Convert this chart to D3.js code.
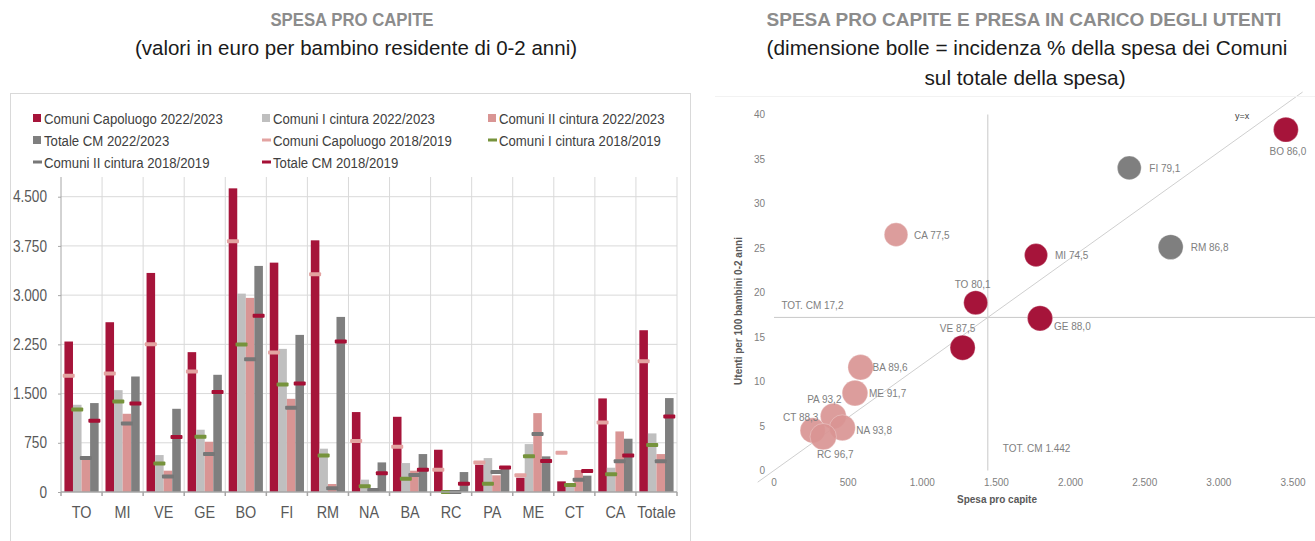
<!DOCTYPE html>
<html>
<head>
<meta charset="utf-8">
<script src="https://cdn.jsdelivr.net/npm/d3@7"></script>
<style>
  body { margin: 0; background: #fff; }
  svg { font-family: "Liberation Sans Narrow", "Arial Narrow", "Liberation Sans", Arial, sans-serif; }
  .grid line { stroke: #d9d9d9; }
</style>
</head>
<body>
<svg id="chart" width="1315" height="541"></svg>
<script>
'use strict'

// ---- left chart data (euro per bambino 0-2 anni)
var cities = ['TO','MI','VE','GE','BO','FI','RM','NA','BA','RC','PA','ME','CT','CA','Totale']
var capoluogo2223 = [2293,2587,3338,2131,4627,3495,3835,1218,1146,644,416,218,162,1426,2465]
var cintura1_2223 = [1329,1552,563,949,3023,2181,660,188,441,0,517,730,80,370,893]
var cintura2_2223 = [543,1192,325,766,2958,1420,122,40,325,0,254,1202,335,923,578]
var totale2223    = [1355,1760,1268,1786,3445,2394,2668,451,578,304,355,543,249,812,1431]
var capoluogo1819 = [1770,1806,2252,1836,3820,2126,3318,776,690,340,451,254,599,1060,1994]
var cintura1_1819 = [1258,1380,436,842,2247,1639,558,86,203,0,127,543,107,269,715]
var cintura2_1819 = [517,1045,238,578,2024,1283,56,30,259,0,304,883,188,467,467]
var totale1819    = [1086,1349,837,1522,2684,1654,2293,284,340,127,375,472,320,558,1152]
var yTicks = [0,750,1500,2250,3000,3750,4500]

// ---- right chart data
var bubbleCities = ['BO','FI','RM','MI','GE','TO','CA','VE','BA','ME','PA','CT','NA','RC']
var spesa        = [3452,2396,2675,1767,1794,1360,823,1272,584,546,400,261,461,332]
var utenti       = [38.3,34.0,25.1,24.2,17.1,18.85,26.5,13.8,11.6,8.7,6.1,4.5,4.8,3.8]
var incidenza    = [86.0,79.1,86.8,74.5,88.0,80.1,77.5,87.5,89.6,91.7,93.2,88.3,93.8,96.7]
var area         = ['nord','centro','centro','nord','nord','nord','sud','nord','sud','sud','sud','sud','sud','sud']
var totSpesa = 1442, totUtenti = 17.2
var xTicksR = [0,500,1000,1500,2000,2500,3000,3500]
var yTicksR = [0,5,10,15,20,25,30,35,40]

var fmt = d3.formatLocale({decimal: ',', thousands: '.', grouping: [3], currency: ['€','']})
var fmtInt = fmt.format(',d'), fmtDec = fmt.format('.1f')

var svg = d3.select('#chart')

// squeeze text horizontally (no narrow font installed)
function condense(sel, f){
  sel.each(function(){
    var w = this.getComputedTextLength()
    d3.select(this).attr('textLength', w * f).attr('lengthAdjust','spacingAndGlyphs')
  })
  return sel
}

// ---------------- titles
svg.append('text').attr('x', 352).attr('y', 26).attr('text-anchor','middle')
  .style('font-weight','bold').style('font-size','18px').attr('fill','#8c8c8c').text('SPESA PRO CAPITE')
  .call(condense, 0.93)
svg.append('text').attr('x', 356).attr('y', 55).attr('text-anchor','middle')
  .style('font-size','20.5px').attr('fill','#1a1a1a').text('(valori in euro per bambino residente di 0-2 anni)')

svg.append('text').attr('x', 1024).attr('y', 26).attr('text-anchor','middle')
  .style('font-weight','bold').style('font-size','19px').attr('fill','#8c8c8c').text('SPESA PRO CAPITE E PRESA IN CARICO DEGLI UTENTI')
svg.append('text').attr('x', 1027).attr('y', 55).attr('text-anchor','middle')
  .style('font-size','20.8px').attr('fill','#1a1a1a').text('(dimensione bolle = incidenza % della spesa dei Comuni')
svg.append('text').attr('x', 1025).attr('y', 85).attr('text-anchor','middle')
  .style('font-size','20.8px').attr('fill','#1a1a1a').text('sul totale della spesa)')

// ---------------- left chart
svg.append('rect').attr('x', 10.5).attr('y', 93.5).attr('width', 680).attr('height', 470)
  .attr('fill','none').attr('stroke','#d9d9d9')

var barSeries = [
  {name: 'Comuni Capoluogo 2022/2023', values: capoluogo2223, color: '#a6143a'},
  {name: 'Comuni I cintura 2022/2023', values: cintura1_2223, color: '#bfbfbf'},
  {name: 'Comuni II cintura 2022/2023', values: cintura2_2223, color: '#d99594'},
  {name: 'Totale CM 2022/2023', values: totale2223, color: '#7f7f7f'}
]
var dashSeries = [
  {name: 'Comuni Capoluogo 2018/2019', values: capoluogo1819, color: '#e3a3a1', bar: 0},
  {name: 'Comuni I cintura 2018/2019', values: cintura1_1819, color: '#76933c', bar: 1},
  {name: 'Comuni II cintura 2018/2019', values: cintura2_1819, color: '#777777', bar: 2},
  {name: 'Totale CM 2018/2019', values: totale1819, color: '#a50f35', bar: 3}
]

var x0 = d3.scaleBand().domain(cities).range([61, 677])
var x1 = d3.scaleBand().domain(d3.range(4)).range([0, x0.bandwidth()]).paddingOuter(0.4)
var y = d3.scaleLinear().domain([0, 4800]).range([492, 177])

var g = svg.append('g')

// grid
g.append('g').attr('class','grid').selectAll('line.h')
  .data(yTicks.slice(1)).enter().append('line')
  .attr('x1', 61).attr('x2', 677).attr('y1', d => y(d)).attr('y2', d => y(d))
g.append('g').attr('class','grid').selectAll('line.v')
  .data(cities).enter().append('line')
  .attr('x1', d => x0(d) + x0.step()).attr('x2', d => x0(d) + x0.step())
  .attr('y1', y(4800)).attr('y2', y(0))

// bars
barSeries.forEach(function(s, si){
  g.append('g').selectAll('rect')
    .data(s.values).enter().append('rect')
    .attr('x', (d, i) => x0(cities[i]) + x1(si))
    .attr('width', x1.bandwidth())
    .attr('y', d => y(d))
    .attr('height', d => y(0) - y(d))
    .attr('fill', s.color)
})

// 2018/2019 markers
dashSeries.forEach(function(s){
  g.append('g').selectAll('rect')
    .data(s.values).enter().append('rect')
    .attr('x', (d, i) => x0(cities[i]) + x1(s.bar) + x1.bandwidth() / 2 - 6)
    .attr('width', 12)
    .attr('y', d => y(d) - 2)
    .attr('height', 4)
    .attr('rx', 1)
    .attr('fill', s.color)
})

// axes
var yAxis = g.append('g').attr('transform','translate(61,0)')
  .call(d3.axisLeft(y).tickValues(yTicks).tickFormat(fmtInt).tickSize(3).tickSizeOuter(0))
yAxis.select('.domain').attr('stroke','#a6a6a6').attr('d','M0,' + y(4800) + 'V' + y(0))
yAxis.selectAll('.tick line').attr('stroke','#a6a6a6')
yAxis.selectAll('.tick text').attr('x', -14).style('font-size','16px').attr('fill','#595959')
  .style('font-family', null).call(condense, 0.85)

var xAxis = g.append('g').attr('transform','translate(0,' + y(0) + ')')
xAxis.append('line').attr('x1', 61).attr('x2', 677).attr('stroke','#a6a6a6').attr('stroke-width', 1.5)
xAxis.selectAll('line.tk').data(d3.range(cities.length + 1)).enter().append('line')
  .attr('x1', i => 61 + x0.step() * i).attr('x2', i => 61 + x0.step() * i)
  .attr('y1', 0).attr('y2', 4).attr('stroke','#a6a6a6').attr('stroke-width', 1.5)
xAxis.selectAll('text').data(cities).enter().append('text')
  .attr('x', d => x0(d) + x0.bandwidth() / 2).attr('y', 26)
  .attr('text-anchor','middle').style('font-size','16px').attr('fill','#595959').text(d => d)
  .call(condense, 0.9)

// legend
var legendItems = barSeries.map(s => ({name: s.name, color: s.color, type: 'box'}))
  .concat(dashSeries.map(s => ({name: s.name, color: s.color, type: 'dash'})))
var legendCols = [33, 262, 488], legendRows = [118, 140, 162]
var leg = svg.append('g').selectAll('g').data(legendItems).enter().append('g')
  .attr('transform', (d, i) => 'translate(' + legendCols[i % 3] + ',' + legendRows[Math.floor(i / 3)] + ')')
leg.append('rect')
  .attr('x', 0).attr('width', d => d.type == 'box' ? 8 : 9)
  .attr('y', d => d.type == 'box' ? -4 : -1.5).attr('height', d => d.type == 'box' ? 8 : 3)
  .attr('fill', d => d.color)
leg.append('text').attr('x', 11).attr('y', 5.5)
  .style('font-size','15.5px').attr('fill','#404040').text(d => d.name)
  .call(condense, 0.85)

// ---------------- right chart
var colors = {nord: '#a6143a', centro: '#7f7f7f', sud: '#d99594'}
var xS = d3.scaleLinear().domain([0, 3500]).range([774, 1293])
var yS = d3.scaleLinear().domain([0, 40]).range([470.5, 114.5])
var rS = d3.scaleSqrt().domain([0, 100]).range([0, 13.4])

var r = svg.append('g')
svg.append('line').attr('x1', 715).attr('x2', 1315).attr('y1', 96.5).attr('y2', 96.5).attr('stroke','#f2f2f2')

r.selectAll('text.xt').data(xTicksR).enter().append('text')
  .attr('x', d => xS(d)).attr('y', 486).attr('text-anchor','middle')
  .style('font-size','10px').attr('fill','#808080').text(d => fmtInt(d))
r.selectAll('text.yt').data(yTicksR).enter().append('text')
  .attr('x', 765).attr('y', d => yS(d) + 3.5).attr('text-anchor','end')
  .style('font-size','10px').attr('fill','#808080').text(d => d)

r.append('text').attr('x', 997).attr('y', 503).attr('text-anchor','middle')
  .style('font-size','10px').style('font-weight','bold').attr('fill','#595959').text('Spesa pro capite')
r.append('text').attr('transform','translate(742,311) rotate(-90)').attr('text-anchor','middle')
  .style('font-size','10px').style('font-weight','bold').attr('fill','#595959').text('Utenti per 100 bambini 0-2 anni')

// reference lines
r.append('line').attr('x1', xS(totSpesa)).attr('x2', xS(totSpesa)).attr('y1', yS(0)).attr('y2', yS(40))
  .attr('stroke','#c8c8c8')
r.append('line').attr('x1', xS(0)).attr('x2', 1315).attr('y1', yS(totUtenti)).attr('y2', yS(totUtenti))
  .attr('stroke','#c8c8c8')
var diag = [-110, 3565]
r.append('line')
  .attr('x1', xS(diag[0])).attr('y1', yS(diag[0] * totUtenti / totSpesa))
  .attr('x2', xS(diag[1])).attr('y2', yS(diag[1] * totUtenti / totSpesa))
  .attr('stroke','#cfcfcf')
r.append('text').attr('x', 1235).attr('y', 119).style('font-size','9px').attr('fill','#404040').text('y=x')
r.append('text').attr('x', xS(50)).attr('y', yS(totUtenti) - 8).style('font-size','10px').attr('fill','#808080')
  .text('TOT. CM ' + fmtDec(totUtenti))
r.append('text').attr('x', xS(totSpesa) + 15).attr('y', 452).style('font-size','10px').attr('fill','#808080')
  .text('TOT. CM ' + fmtInt(totSpesa))

// bubbles
var bubbles = bubbleCities.map((c, i) => ({city: c, x: spesa[i], y: utenti[i], v: incidenza[i], area: area[i]}))
r.append('g').selectAll('circle').data(bubbles).enter().append('circle')
  .attr('cx', d => xS(d.x)).attr('cy', d => yS(d.y)).attr('r', d => rS(d.v))
  .attr('fill', d => colors[d.area]).attr('fill-opacity', d => d.area == 'sud' ? 0.92 : 1)
  .attr('stroke', '#fff').attr('stroke-opacity', 0.35).attr('stroke-width', 0.8)

// label placement [dx, dy, anchor]
var labelPos = {
  BO: [2, 25, 'middle'], FI: [20, 4, 'start'], RM: [20, 4, 'start'], MI: [19, 4, 'start'],
  GE: [14, 12, 'start'], TO: [-3, -15, 'middle'], CA: [18, 4, 'start'], VE: [-5, -16, 'middle'],
  BA: [12, 4, 'start'], ME: [14, 4, 'start'], PA: [-9, -13, 'middle'], CT: [-12, -9, 'middle'],
  NA: [14, 6, 'start'], RC: [12, 21, 'middle']
}
r.append('g').selectAll('text').data(bubbles).enter().append('text')
  .attr('x', d => xS(d.x) + labelPos[d.city][0])
  .attr('y', d => yS(d.y) + labelPos[d.city][1])
  .attr('text-anchor', d => labelPos[d.city][2])
  .style('font-size','10px').attr('fill','#808080')
  .text(d => d.city + '  ' + fmtDec(d.v))
</script>
</body>
</html>
